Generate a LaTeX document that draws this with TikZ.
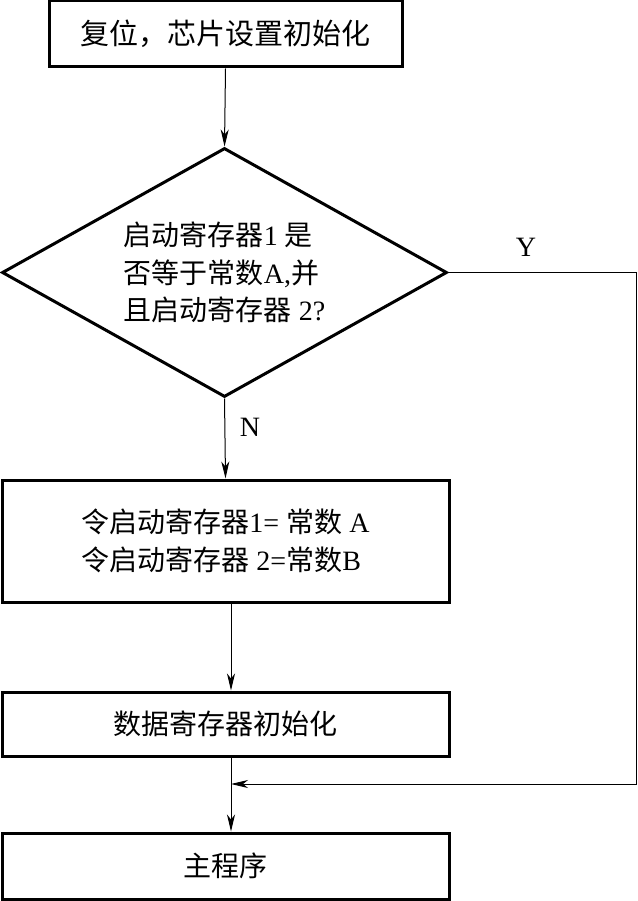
\documentclass[tikz,border=0pt]{standalone}
\usepackage{fontspec}
\setmainfont{Liberation Serif}
\newfontfamily\cjk{Noto Sans CJK SC}
\usetikzlibrary{shapes.geometric,arrows.meta}
\begin{document}
\begin{tikzpicture}[x=1pt,y=-1pt,
  box/.style={draw,line width=3pt,rectangle,inner sep=0pt,font=\fontsize{28}{37.5}\selectfont},
  dec/.style={draw,line width=3pt,diamond,aspect=1.787,inner sep=0pt,minimum width=445pt,minimum height=249pt,font=\fontsize{28}{37.5}\selectfont,align=left},
  flow/.style={line width=1pt,-{Stealth[length=17pt,width=8pt,inset=5pt]}},
  lbl/.style={font=\fontsize{28}{32}\selectfont,inner sep=0pt}]
\useasboundingbox (0,0) rectangle (637,901);
\node[box,minimum width=353pt,minimum height=66pt,font=\fontsize{29}{35}\selectfont] (b1) at (225.5,34) {\cjk 复位，芯片设置初始化};
\node[dec] (d) at (224.5,272.5) {{\cjk 启动寄存器}1 {\cjk 是}\\{\cjk 否等于常数}A,{\cjk 并}\\{\cjk 且启动寄存器} 2?};
\node[box,minimum width=447pt,minimum height=122pt,align=left] (b2) at (225.5,541) {{\cjk 令启动寄存器}1= {\cjk 常数} A\\{\cjk 令启动寄存器} 2={\cjk 常数}B};
\node[box,minimum width=447pt,minimum height=64pt] (b3) at (225.5,724) {\cjk 数据寄存器初始化};
\node[box,minimum width=447pt,minimum height=66pt] (b4) at (225.5,866) {\cjk 主程序};
\coordinate (m) at (231,784);
\coordinate (c1) at (636,272.5);
\coordinate (c2) at (636,784);
\node[lbl] (ly) at (526,247) {Y};
\node[lbl] (ln) at (250,427) {N};
\draw[flow] (b1.south) -- (d.north);
\draw[flow] (d.south) -- (b2.north);
\draw[flow] (b2.south -| m) -- (b3.north -| m);
\draw[flow] (b3.south -| m) -- (b4.north -| m);
\draw[flow] (d.east) -- (c1) -- (c2) -- (m);
\end{tikzpicture}
\end{document}
